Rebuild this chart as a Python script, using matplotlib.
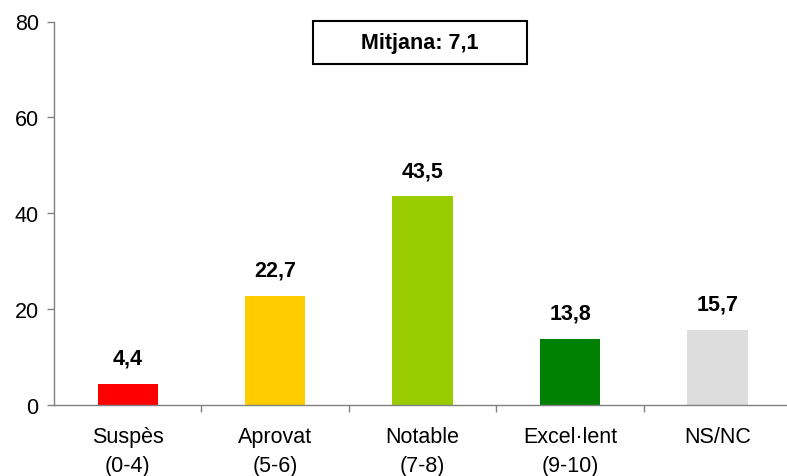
import numpy as np
import matplotlib.pyplot as plt
from matplotlib.patches import Rectangle
from matplotlib.ticker import FixedLocator

plt.rcParams['font.family'] = ['Liberation Sans', 'DejaVu Sans']

categories = ['Suspès\n(0-4)', 'Aprovat\n(5-6)', 'Notable\n(7-8)', 'Excel·lent\n(9-10)', 'NS/NC']
values = [4.4, 22.7, 43.5, 13.8, 15.7]
colors = ['#FF0000', '#FFCC00', '#99CC00', '#008000', '#DDDDDD']
mean_label = 'Mitjana: 7,1'

fig = plt.figure(figsize=(7.87, 4.77), dpi=100)
ax = fig.add_axes([54 / 787, 1 - 406 / 477, 733 / 787, (406 - 22.5) / 477])

x = np.arange(len(categories))
ax.bar(x, values, width=0.41, color=colors, zorder=2)

for xi, v in zip(x, values):
    ax.annotate(f'{v:.1f}'.replace('.', ','), (xi, v), xytext=(0, 11),
                textcoords='offset points', ha='center', va='bottom',
                fontsize=15.5, fontweight='bold')

ax.set_xlim(-0.5, 4.47)
ax.set_ylim(0, 80)
ax.set_yticks([0, 20, 40, 60, 80])
ax.tick_params(axis='y', labelsize=15.5, length=5, width=1, color='#808080', pad=6)
ax.set_xticks(x)
ax.set_xticklabels(categories, fontsize=15.5, linespacing=1.5)
ax.tick_params(axis='x', which='major', length=0, pad=15)
ax.xaxis.set_minor_locator(FixedLocator(np.arange(0.5, 4.5, 1)))
ax.tick_params(axis='x', which='minor', length=5, width=1, color='#808080')

for side in ['top', 'right']:
    ax.spines[side].set_visible(False)
for side in ['left', 'bottom']:
    ax.spines[side].set_color('#808080')
    ax.spines[side].set_linewidth(1)

# caixa de la mitjana
fig.patches.append(Rectangle((313 / 787, 1 - 65 / 477), 214 / 787, 43 / 477,
                             transform=fig.transFigure, facecolor='white',
                             edgecolor='black', linewidth=1.5, zorder=3))
fig.text(420 / 787, 1 - 44 / 477, mean_label, ha='center', va='center',
         fontsize=15.5, fontweight='bold', zorder=4)

fig.savefig('out.png', dpi=100)
